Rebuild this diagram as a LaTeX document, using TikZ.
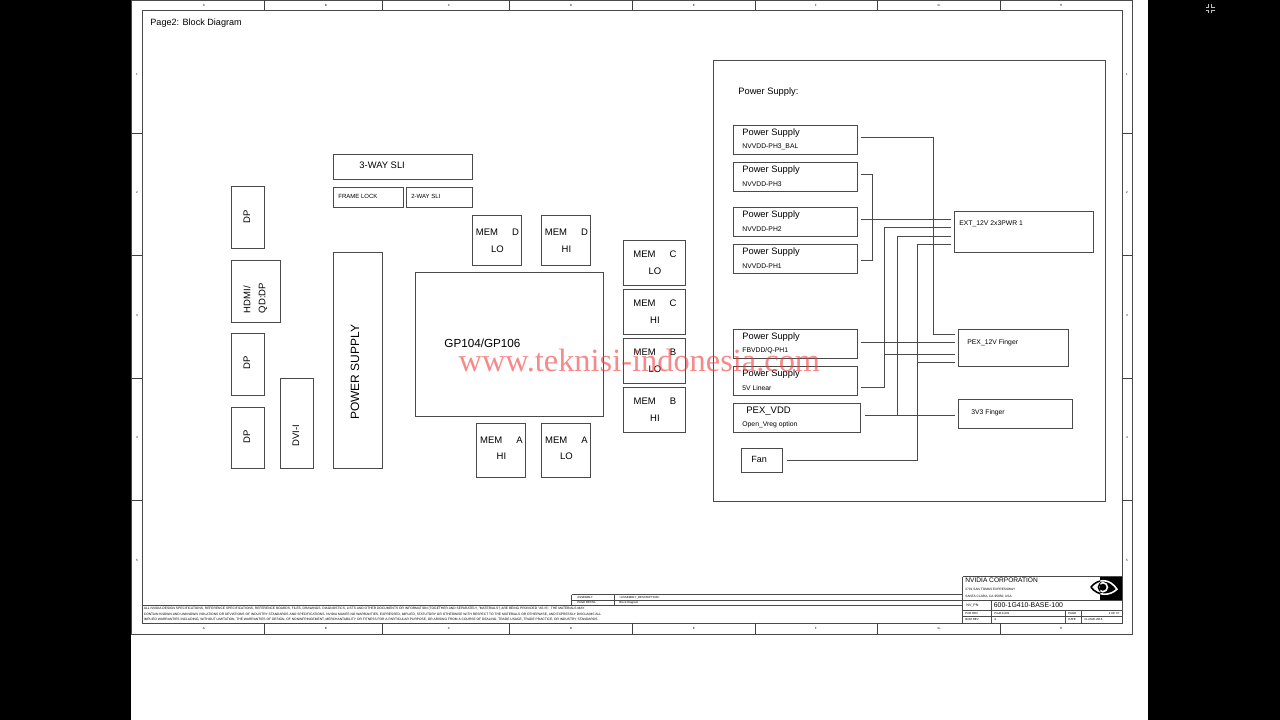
\documentclass[tikz,border=0pt]{standalone}
\usepackage{fontspec}
\setmainfont{Liberation Sans}
\newfontfamily\markfont{Liberation Serif}
\definecolor{sheetLine}{HTML}{4A4A4A}
\definecolor{markRed}{HTML}{F03C3C}
\newcommand{\fs}[1]{\fontsize{#1}{#1}\selectfont}
\newcommand{\memlabel}[3]{MEM\hspace{14pt}#1\\[7pt]#2\hspace{#3}}

\begin{document}
\begin{tikzpicture}[x=1pt, y=-1pt, line width=1pt, sheetLine,
    block/.style={draw=sheetLine, text=black, inner sep=0pt, align=center, font=\fs{9.5}},
    memH/.style={block, minimum width=62pt, minimum height=45pt},
    memV/.style={block, minimum width=49pt, minimum height=50pt},
    supply/.style={draw=sheetLine, text=black, inner sep=0pt, minimum height=29pt},
    tag/.style={text=black, inner sep=0pt, anchor=west, yshift=-1pt},
    small/.style={text=black, inner sep=0pt, anchor=west, font=\fs{2.9}},
    legal/.style={small, font=\fs{3.28}},
    turned/.style={text=black, inner sep=0pt, anchor=center, rotate=90, font=\fs{9.5}},
    conn/.style={draw=sheetLine, line width=1pt},
    eye/.style={line width=1.6pt}]
    \useasboundingbox (0.1,-0.2) rectangle (1280.1,719.8);
    \fill[black] (0,-1) rectangle (1281,721);
    \fill[white] (131,-1) rectangle (1148,721);

    \node[draw=sheetLine, minimum width=1001pt, minimum height=634pt, inner sep=0pt, anchor=north west] (Outer) at (131.5,0) {};
    \node[draw=sheetLine, minimum width=980pt, minimum height=613pt, inner sep=0pt, anchor=north west] (Frame) at (142,10) {};
    \foreach \xtick in {264,382,509,632,755,877,1000} {
        \draw[black!75, line width=0.8pt] (\xtick,0) -- (\xtick,10);
        \draw[black!75, line width=0.8pt] (\xtick,623) -- (\xtick,634);
    }
    \foreach \ytick in {133,255,378,500} {
        \draw[black!75, line width=0.8pt] (131,\ytick) -- (142,\ytick);
        \draw[black!75, line width=0.8pt] (1122,\ytick) -- (1132,\ytick);
    }
    \foreach \xpos/\col in {204/A,326/B,449/C,571/D,694/E,816/F,939/G,1061/H} {
        \node[text=black, inner sep=0pt, font=\fs{3}] (top\col) at (\xpos,5) {\col};
        \node[text=black, inner sep=0pt, font=\fs{3}] (bot\col) at (\xpos,628) {\col};
    }
    \foreach \ypos/\row in {74/1,192/2,315/3,437/4,560/5} {
        \node[text=black, inner sep=0pt, font=\fs{3}] (left\row) at (137,\ypos) {\row};
        \node[text=black, inner sep=0pt, font=\fs{3}] (right\row) at (1127,\ypos) {\row};
    }

    \node[tag, font=\fs{9.1}] (Title) at (150,22) {Page2: Block Diagram};

    \node[block, minimum width=33pt, minimum height=62pt] (DpA) at (248.5,217) {};
    \node[turned] (DpAt) at (247,216.5) {DP};
    \node[block, minimum width=49pt, minimum height=62pt] (Hdmi) at (256.5,291) {};
    \node[turned, anchor=west] (HdmiA) at (247,313.5) {HDMI/};
    \node[turned, anchor=west] (HdmiB) at (263,313.5) {QD:DP};
    \node[block, minimum width=33pt, minimum height=62pt] (DpB) at (248.5,364) {};
    \node[turned] (DpBt) at (247,363) {DP};
    \node[block, minimum width=33pt, minimum height=61pt] (DpC) at (248.5,437.5) {};
    \node[turned] (DpCt) at (247,437) {DP};
    \node[block, minimum width=33pt, minimum height=90pt] (Dvi) at (297.5,423) {};
    \node[turned] (Dvit) at (296,435.5) {DVI-I};
    \node[block, minimum width=49pt, minimum height=216pt] (Psu) at (358.5,360) {};
    \node[turned, font=\fs{12}] (Psut) at (355,372) {POWER SUPPLY};

    \node[block, minimum width=139pt, minimum height=25pt] (SliC) at (403.5,166.5) {};
    \node[tag, font=\fs{9.4}] (SliCt) at (359,164) {3-WAY SLI};
    \node[block, minimum width=70pt, minimum height=20pt] (Lock) at (369,197) {};
    \node[tag, font=\fs{6}] (Lockt) at (338,195) {FRAME LOCK};
    \node[block, minimum width=66pt, minimum height=20pt] (SliB) at (440,197) {};
    \node[tag, font=\fs{6}] (SliBt) at (411,195) {2-WAY SLI};

    \node[block, minimum width=188pt, minimum height=144pt] (Gpu) at (510,344) {};
    \node[tag, font=\fs{11.7}] (Gput) at (444,342.5) {GP104/GP106};

    \node[memV] (MemDlo) at (497.5,240) {~\\[-2pt]\memlabel{D}{LO}{5pt}};
    \node[memV] (MemDhi) at (566.5,240) {~\\[-2pt]\memlabel{D}{HI}{7pt}};
    \node[memH] (MemClo) at (655,262.5) {\memlabel{C}{LO}{9pt}};
    \node[memH] (MemChi) at (655,311.5) {\memlabel{C}{HI}{10pt}};
    \node[memH] (MemBlo) at (655,360.5) {\memlabel{B}{LO}{9pt}};
    \node[memH] (MemBhi) at (655,409.5) {\memlabel{B}{HI}{10pt}};
    \node[memV, minimum height=54pt] (MemAhi) at (501.5,450) {\memlabel{A}{HI}{7pt}\\[-6pt]~};
    \node[memV, minimum height=54pt] (MemAlo) at (566.5,450) {\memlabel{A}{LO}{4pt}\\[-6pt]~};

    \node[draw=sheetLine, minimum width=392pt, minimum height=441pt, inner sep=0pt] (Panel) at (910,280.5) {};
    \node[tag, font=\fs{9.3}] (Panelt) at (738,90.5) {Power Supply:};

    \foreach \nm/\ytop/\sub in {PhBal/125/{NVVDD-PH3\_BAL},PhC/162/{NVVDD-PH3},PhB/207/{NVVDD-PH2},PhA/244/{NVVDD-PH1},Fbvdd/329/{FBVDD/Q-PH1},Five/366/{5V Linear}} {
        \node[supply, minimum width=124pt] (\nm) at (795.5,\ytop+14.5) {};
        \node[tag, font=\fs{9.3}] (\nm t) at (742,\ytop+6.5) {Power Supply};
        \node[tag, font=\fs{6.8}] (\nm s) at (742,\ytop+20.5) {\sub};
    }
    \node[supply, minimum width=127pt] (Pexvdd) at (797.5,417.5) {};
    \node[tag, font=\fs{9.5}] (Pexvddt) at (746,409.5) {PEX\_VDD};
    \node[tag, font=\fs{6.8}] (Pexvdds) at (742,423.5) {Open\_Vreg option};
    \node[block, minimum width=41pt, minimum height=24pt] (Fan) at (762.5,460) {};
    \node[tag, font=\fs{9}] (Fant) at (751,458) {Fan};

    \node[block, minimum width=139pt, minimum height=41pt] (Ext) at (1024.5,231.5) {};
    \node[tag, font=\fs{6.8}] (Extt) at (959,223) {EXT\_12V 2x3PWR 1};
    \node[block, minimum width=110pt, minimum height=37pt] (Pex) at (1014,347.5) {};
    \node[tag, font=\fs{6.8}] (Pext) at (967,341.5) {PEX\_12V Finger};
    \node[block, minimum width=114pt, minimum height=29pt] (Finger) at (1016,413.5) {};
    \node[tag, font=\fs{6.8}] (Fingert) at (971,411.5) {3V3 Finger};

    \coordinate (balOut) at (861,137);
    \coordinate (balIn) at (955,334);
    \coordinate (phcOut) at (861,174);
    \coordinate (phaOut) at (861,260);
    \coordinate (phbOut) at (861,219);
    \coordinate (extA) at (951,219);
    \coordinate (extB) at (951,227);
    \coordinate (extC) at (951,236);
    \coordinate (extD) at (951,244);
    \coordinate (fbOut) at (861,342);
    \coordinate (pexA) at (955,342);
    \coordinate (pexB) at (955,354);
    \coordinate (pexC) at (955,362);
    \coordinate (fiveOut) at (861,387);
    \coordinate (vddOut) at (865,415);
    \coordinate (vddIn) at (955,415);
    \coordinate (fanOut) at (787,460);

    \draw[conn] (balOut) -| (934,334) -- (balIn);
    \draw[conn] (phcOut) -| (873,219);
    \draw[conn] (phaOut) -| (873,219);
    \draw[conn] (phbOut) -- (extA);
    \draw[conn] (fiveOut) -| (885,227) -- (extB);
    \draw[conn] (885,354) -- (pexB);
    \draw[conn] (vddOut) -- (vddIn);
    \draw[conn] (898,415) |- (extC);
    \draw[conn] (fanOut) -| (918,244) -- (extD);
    \draw[conn] (918,362) -- (pexC);
    \draw[conn] (fbOut) -- (pexA);

    \draw (142,605) -- (963,605);
    \draw (963,576.5) -- (1122,576.5);
    \draw (963,576.5) -- (963,623);
    \draw (963,600) -- (1122,600);
    \draw (963,610) -- (1122,610);
    \draw (963,616) -- (1122,616);
    \draw (992,600) -- (992,623);
    \draw (1066,610) -- (1066,623);
    \draw (1082,610) -- (1082,623);
    \draw (572,594.5) -- (963,594.5);
    \draw (572,600) -- (963,600);
    \draw (572,594.5) -- (572,605);
    \draw (615,594.5) -- (615,605);

    \node[small] (AsmA) at (577,597.3) {ASSEMBLY};
    \node[small] (AsmB) at (619,597.3) {<ASSEMBLY\_DESCRIPTION>};
    \node[small] (DetA) at (577,602.6) {PAGE DETAIL};
    \node[small] (DetB) at (619,602.6) {Block Diagram};
    \node[tag, font=\fs{6.6}] (Corp) at (965,579.5) {NVIDIA CORPORATION};
    \node[small, font=\fs{3.2}] (AddrA) at (965,589) {2701 SAN TOMAS EXPRESSWAY};
    \node[small, font=\fs{3.2}] (AddrB) at (965,596) {SANTA CLARA, CA 95050, USA};
    \node[tag, font=\fs{3.6}] (Pn) at (966,604) {NV\_PN};
    \node[tag, font=\fs{6.9}] (PnV) at (993.5,604) {600-1G410-BASE-100};
    \node[small] (PcbA) at (965,613) {PCB REV};
    \node[small] (PcbB) at (994,613) {PG410-A01};
    \node[small] (BomA) at (965,619.5) {BOM REV};
    \node[small] (BomB) at (994,619.5) {A};
    \node[small] (PgA) at (1068,613) {PAGE};
    \node[small, anchor=east] (PgB) at (1120,613) {2 OF 37};
    \node[small] (DtA) at (1068,619.5) {DATE};
    \node[small] (DtB) at (1084,619.5) {21-MAR-2016};

    \fill[black] (1100.5,576.5) rectangle (1122,600);
    \begin{scope}
        \clip (1085,577) rectangle (1100.5,600);
        \draw[black, eye] (1091,587) .. controls (1098,578) and (1110,578) .. (1117,589) .. controls (1110,596) and (1098,596) .. (1091,587);
        \draw[black, eye] (1103,587) circle (4.5);
    \end{scope}
    \begin{scope}
        \clip (1100.5,577) rectangle (1122,600);
        \draw[white, eye] (1091,587) .. controls (1098,578) and (1110,578) .. (1117,589) .. controls (1110,596) and (1098,596) .. (1091,587);
        \draw[white, eye] (1103,587) circle (4.5);
    \end{scope}

    \node[legal] (LegalA) at (143.5,608.5) {ALL NVIDIA DESIGN SPECIFICATIONS, REFERENCE SPECIFICATIONS, REFERENCE BOARDS, FILES, DRAWINGS, DIAGNOSTICS, LISTS AND OTHER DOCUMENTS OR INFORMATION (TOGETHER AND SEPARATELY, "MATERIALS") ARE BEING PROVIDED "AS IS". THE MATERIALS MAY};
    \node[legal] (LegalB) at (143.5,614) {CONTAIN KNOWN AND UNKNOWN VIOLATIONS OR DEVIATIONS OF INDUSTRY STANDARDS AND SPECIFICATIONS. NVIDIA MAKES NO WARRANTIES, EXPRESSED, IMPLIED, STATUTORY OR OTHERWISE WITH RESPECT TO THE MATERIALS OR OTHERWISE, AND EXPRESSLY DISCLAIMS ALL};
    \node[legal] (LegalC) at (143.5,619.5) {IMPLIED WARRANTIES INCLUDING, WITHOUT LIMITATION, THE WARRANTIES OF DESIGN, OF NONINFRINGEMENT, MERCHANTABILITY OR FITNESS FOR A PARTICULAR PURPOSE, OR ARISING FROM A COURSE OF DEALING, TRADE USAGE, TRADE PRACTICE, OR INDUSTRY STANDARDS.};

    \node[text=markRed, text opacity=0.6, inner sep=0pt, font=\markfont\fs{32.4}] (Mark) at (639.5,360) {www.teknisi-indonesia.com};

    \foreach \cx/\cy/\dx/\dy in {1206/4/1/1,1215/4/-1/1,1206/13/1/-1,1215/13/-1/-1} {
        \draw[white!75!black, line width=1pt] (\cx+3*\dx,\cy) -- (\cx+3*\dx,\cy+3*\dy) -- (\cx,\cy+3*\dy);
    }
\end{tikzpicture}
\end{document}
